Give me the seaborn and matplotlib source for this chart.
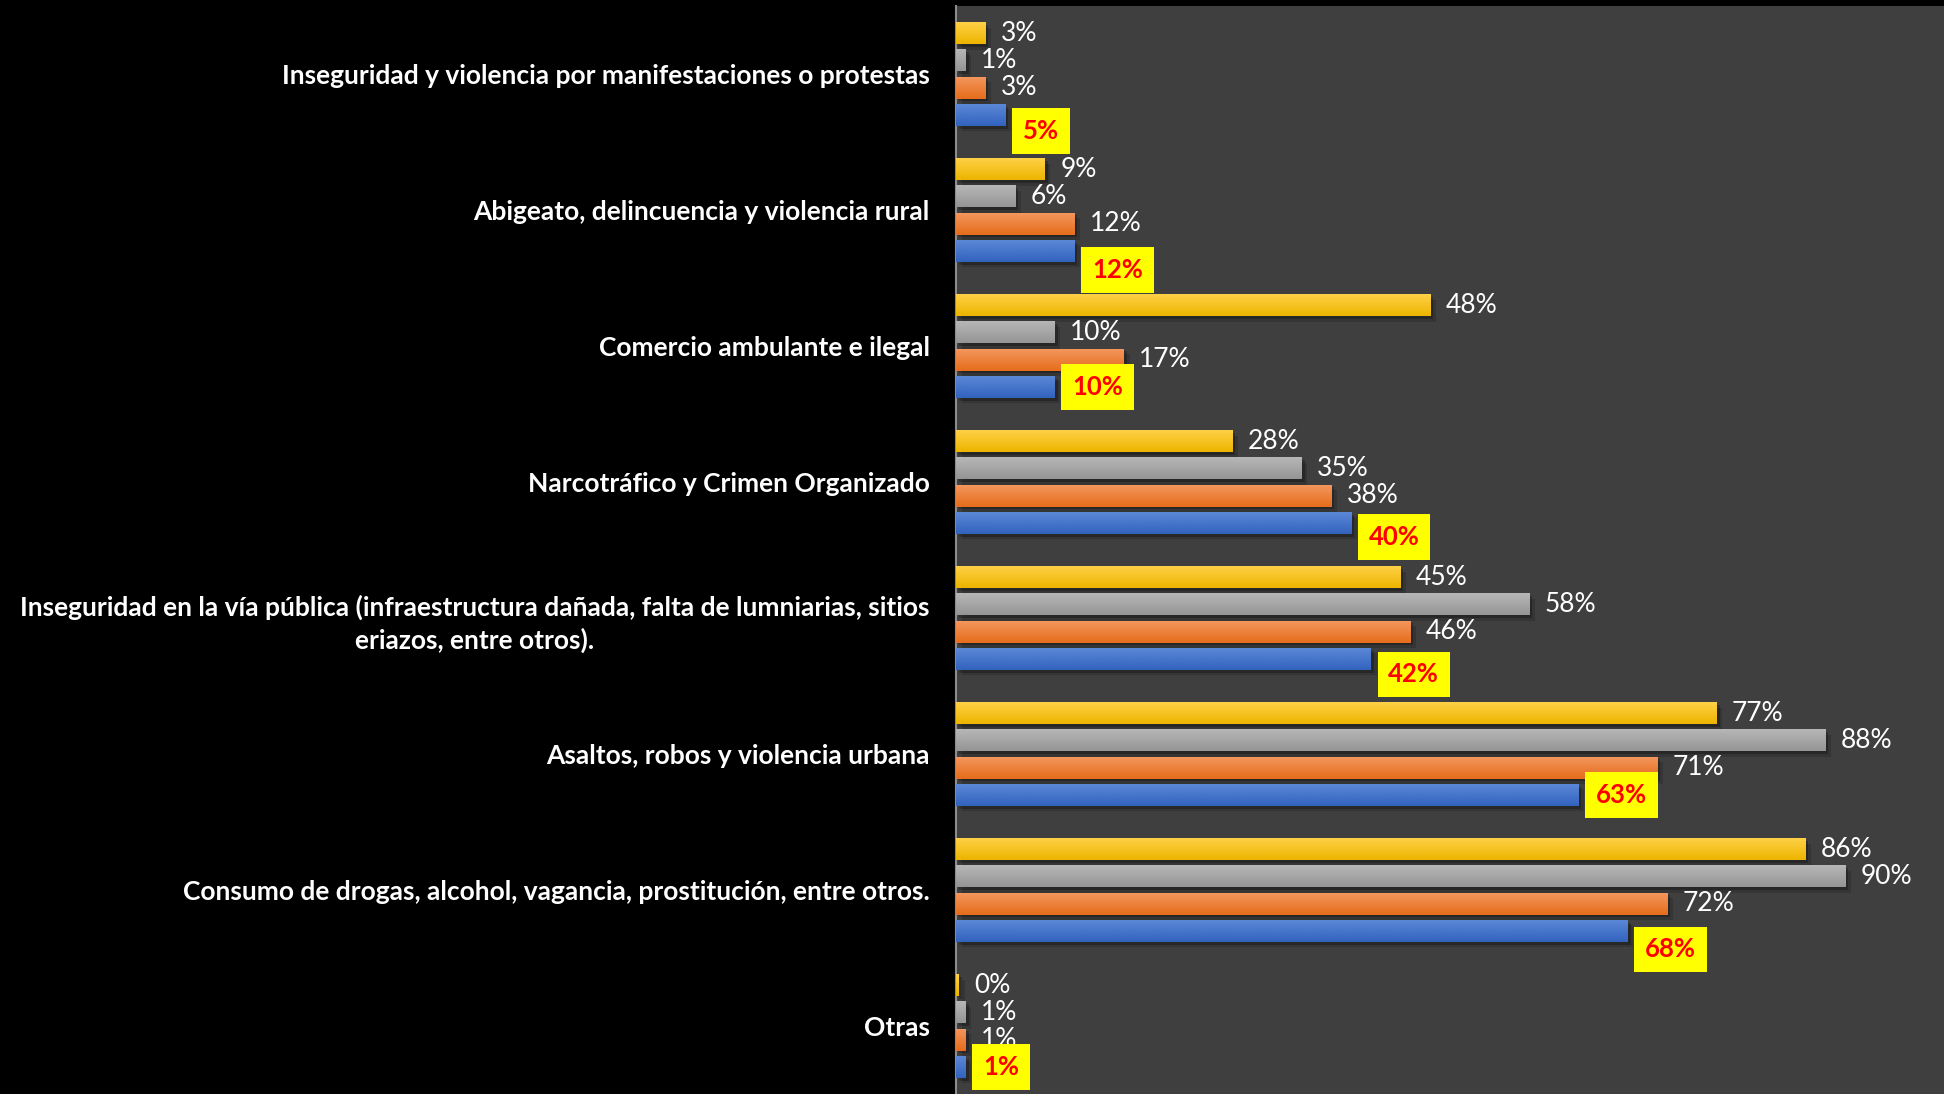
import numpy as np
import pandas as pd
import seaborn as sns
import matplotlib.pyplot as plt
import matplotlib.patheffects as pe
from matplotlib.colors import LinearSegmentedColormap

categories = [
    "Inseguridad y violencia por manifestaciones o protestas",
    "Abigeato, delincuencia y violencia rural",
    "Comercio ambulante e ilegal",
    "Narcotráfico y Crimen Organizado",
    "Inseguridad en la vía pública (infraestructura dañada, falta de lumniarias, sitios\neriazos, entre otros).",
    "Asaltos, robos y violencia urbana",
    "Consumo de drogas, alcohol, vagancia, prostitución, entre otros.",
    "Otras",
]
series = ["Serie 4", "Serie 3", "Serie 2", "Serie 1"]

serie_4 = [3, 9, 48, 28, 45, 77, 86, 0.3]  # amarillo
serie_3 = [1, 6, 10, 35, 58, 88, 90, 1]    # gris
serie_2 = [3, 12, 17, 38, 46, 71, 72, 1]   # naranja
serie_1 = [5, 12, 10, 40, 42, 63, 68, 1]   # azul (resaltado)

colors = ["#FFC000", "#A5A5A5", "#ED7D31", "#4472C4"]
grad = [("#FFD24A", "#EDB500"), ("#B8B8B8", "#959595"),
        ("#F5985F", "#E56D1C"), ("#5D89D8", "#3263BE")]
# desplazamiento vertical (px) de las etiquetas amarillas, movidas a mano en el original
box_dy = [16, 19, 0, 14, 15.5, 0, 18.5, 0]

df = pd.DataFrame({
    "categoria": categories * 4,
    "serie": np.repeat(series, len(categories)),
    "valor": serie_4 + serie_3 + serie_2 + serie_1,
})

sns.set_style("dark")
plt.rcParams["font.family"] = ["Lato", "DejaVu Sans"]

fig = plt.figure(figsize=(19.44, 10.94), dpi=100, facecolor="black")
ax = fig.add_axes([956 / 1944, 0, 1 - 956 / 1944, 1088 / 1094])
ax.set_facecolor("#3F3F3F")

sns.barplot(data=df, y="categoria", x="valor", hue="serie", hue_order=series,
            order=categories, palette=colors, orient="h", width=0.8, gap=0.19,
            legend=False, ax=ax, zorder=2, linewidth=0, edgecolor="none")

# degradado y sombra suave en cada barra
shadow = [pe.SimplePatchShadow(offset=(4, -4), shadow_rgbFace="black", alpha=0.15),
          pe.SimplePatchShadow(offset=(2, -2), shadow_rgbFace="black", alpha=0.25),
          pe.Normal()]
for cont, (top, bot) in zip(ax.containers, grad):
    cmap = LinearSegmentedColormap.from_list("g", [top, bot])
    for p in cont.patches:
        p.set_path_effects(shadow)
        x0, y0 = p.get_x(), p.get_y()
        w, h = p.get_width(), p.get_height()
        if w <= 0:
            continue
        im = ax.imshow(np.linspace(0, 1, 50).reshape(-1, 1), cmap=cmap, aspect="auto",
                       extent=(x0, x0 + w, y0 + h, y0), zorder=3)
        im.set_clip_path(p)
ax.set_xlim(0, 100)
ax.set_ylim(len(categories) - 0.5, -0.5)

# etiquetas de datos
for cont in ax.containers[:3]:
    ax.bar_label(cont, labels=[f"{v:.0f}%" for v in cont.datavalues], padding=11,
                 color="white", fontsize=19, zorder=5)

for p, v, dy in zip(ax.containers[3].patches, ax.containers[3].datavalues, box_dy):
    ax.annotate(f"{v:.0f}%", xy=(p.get_width(), p.get_y() + p.get_height() / 2),
                xytext=(12.5, -dy * 0.72), textcoords="offset points", ha="left", va="center",
                color="#FF0000", fontsize=18.5, fontweight="bold", zorder=6,
                bbox=dict(boxstyle="square,pad=0.42", fc="#FFFF00", ec="none"))

ax.set_xlabel("")
ax.set_ylabel("")
ax.set_xticks([])
ax.tick_params(axis="y", length=0, pad=19)
for lab in ax.get_yticklabels():
    lab.set_color("white")
    lab.set_fontsize(19)
    lab.set_fontweight("bold")
    lab.set_multialignment("center")
    lab.set_linespacing(1.35)
ax.grid(False)
for s in ["top", "right", "bottom"]:
    ax.spines[s].set_visible(False)
ax.spines["left"].set_color("#8C8C8C")
ax.spines["left"].set_linewidth(1.5)

fig.savefig("out.png", dpi=100, facecolor="black")
